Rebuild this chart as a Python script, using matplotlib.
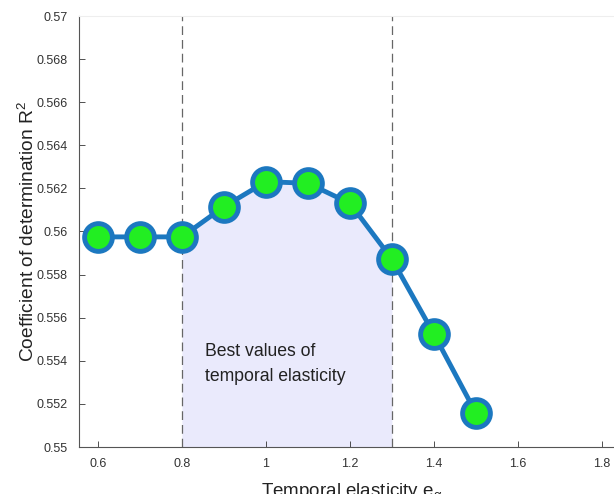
import matplotlib
matplotlib.use("Agg")
import matplotlib.pyplot as plt
import numpy as np
from matplotlib.ticker import FuncFormatter

plt.rcParams["font.family"] = ["Liberation Sans", "DejaVu Sans"]

# valeurs
elasticity = [0.6, 0.7, 0.8, 0.9, 1.0, 1.1, 1.2, 1.3, 1.4, 1.5]
r2 = [0.55975, 0.55975, 0.55975, 0.56115, 0.56231, 0.56224, 0.56131, 0.55872, 0.55524, 0.55158]
best_range = [0.8, 1.3]
xticks = [0.6, 0.8, 1.0, 1.2, 1.4, 1.6, 1.8]
yticks = [0.55, 0.552, 0.554, 0.556, 0.558, 0.56, 0.562, 0.564, 0.566, 0.568, 0.57]

fig = plt.figure(figsize=(6.14, 4.94), dpi=100)
# axes plus large que la figure : le bord droit est coupé comme sur l'original
ax = fig.add_axes([79 / 614, 47 / 494, 546 / 614, 431 / 494])

x = np.array(elasticity)
y = np.array(r2)
mask = (x >= best_range[0]) & (x <= best_range[1])
ax.fill_between(x[mask], 0.55, y[mask], color="#eaeafc", lw=0, zorder=1)
for xv in best_range:
    ax.plot([xv, xv], [0.55, 0.57], color="#666666", lw=0.9,
            dashes=(7, 4), zorder=2)

ax.plot(x, y, "-o", color="#1c78c0", lw=3.5, ms=20, mfc="#22ee22",
        mec="#1c78c0", mew=3.5, zorder=3)

ax.text(0.855, 0.55385, "Best values of\ntemporal elasticity", fontsize=12.7,
        ha="left", va="center", color="#222222", linespacing=1.55)

ax.set_xlim(0.555, 1.855)
ax.set_ylim(0.55, 0.57)
ax.set_xticks(xticks)
ax.set_yticks(yticks)
fmt = FuncFormatter(lambda v, p: f"{v:g}")
ax.xaxis.set_major_formatter(fmt)
ax.yaxis.set_major_formatter(fmt)
ax.tick_params(direction="in", labelsize=9, colors="#333333", length=4, width=0.6,
               top=False, right=False, pad=8)

for side in ["left", "bottom"]:
    ax.spines[side].set_color("#555555")
    ax.spines[side].set_linewidth(0.8)
ax.spines["top"].set_color("#eeeeee")
ax.spines["right"].set_visible(False)

ax.set_xlabel("Temporal elasticity e$_\\mathregular{\\alpha}$", fontsize=13.5,
              color="#222222", labelpad=8)
ax.set_ylabel("Coefficient of determination R$^\\mathregular{2}$", fontsize=13.8,
              color="#222222", labelpad=-1)

fig.savefig("out.png", dpi=100)
